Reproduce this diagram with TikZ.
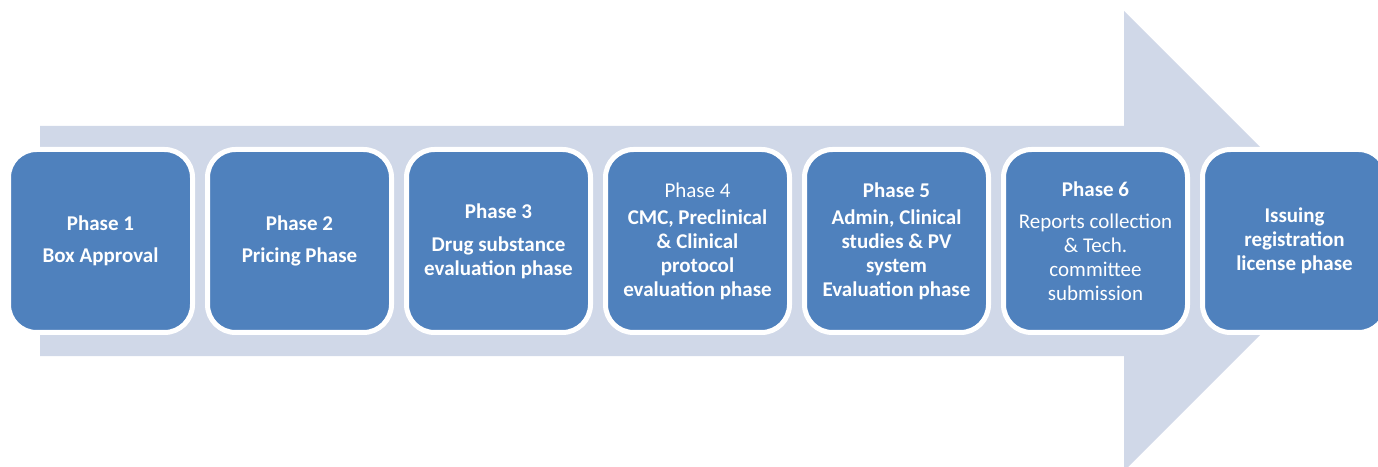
\documentclass[tikz,border=0pt]{standalone}
\usepackage{fontspec}
\setmainfont{Carlito}
\usetikzlibrary{positioning}
\definecolor{phaseblue}{HTML}{4F81BD}
\definecolor{arrowgrey}{HTML}{D0D8E8}

\begin{document}
\begin{tikzpicture}[x=1pt, y=1pt, node distance=10pt,
        phase/.style = {draw=white, line width=5pt, fill=phaseblue, rounded corners=28pt,
            minimum width=184pt, minimum height=183pt, inner sep=0pt,
            text=white, align=center, font=\fontsize{21}{24}\selectfont}]
        \useasboundingbox (0,0) rectangle (1378,466);
        \clip (0,0) rectangle (1378,466);
        % big arrow behind the phases
        \fill[arrowgrey] (40,110) -- (40,340) -- (1124,340) -- (1124,455)
            -- (1354,225) -- (1124,-5) -- (1124,110) -- cycle;
        \node[phase] (p1) at (100.5,225) {\textbf{Phase 1}\\[8pt]\textbf{Box Approval}};
        \node[phase, right=of p1] (p2) {\textbf{Phase 2}\\[8pt]\textbf{Pricing Phase}};
        \node[phase, right=of p2] (p3) {\textbf{Phase 3}\\[9pt]\textbf{Drug substance}\\\textbf{evaluation phase}};
        \node[phase, right=of p3] (p4) {Phase 4\\[3pt]\textbf{CMC, Preclinical}\\\textbf{\& Clinical}\\\textbf{protocol}\\\textbf{evaluation phase}};
        \node[phase, right=of p4] (p5) {\textbf{Phase 5}\\[3pt]\textbf{Admin, Clinical}\\\textbf{studies \& PV}\\\textbf{system}\\\textbf{Evaluation phase}};
        \node[phase, right=of p5] (p6) {\textbf{Phase 6}\\[8pt]Reports collection\\\& Tech.\\committee\\submission};
        \node[phase, right=of p6] (p7) {\textbf{Issuing}\\\textbf{registration}\\\textbf{license phase}};
    \end{tikzpicture}
\end{document}
